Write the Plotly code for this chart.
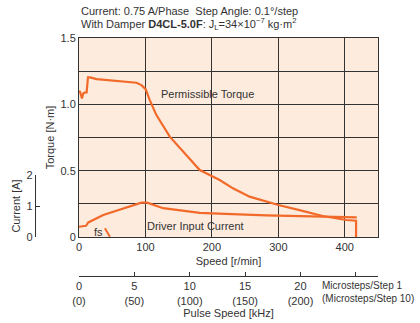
import plotly.graph_objects as go

# ---- data ----
speed_torque = [0, 1.5, 4.5, 6.5, 9.5, 11.5, 13.5, 16.5, 26.5, 86.5, 94, 100.5, 106.5, 116.5,
                136.6, 156.6, 181.7, 211.7, 231.7, 256.7, 300, 331.8, 366.8, 401.9, 417, 417]
torque = [1.10, 1.095, 1.045, 1.083, 1.09, 1.09, 1.203, 1.203, 1.19, 1.163, 1.145, 1.113, 1.032, 0.919,
          0.756, 0.643, 0.505, 0.43, 0.367, 0.304, 0.241, 0.203, 0.158, 0.128, 0.123, 0.0]

speed_current = [0, 10.5, 14, 36.5, 94, 102.5, 126.6, 181.7, 200, 281.8, 401.9, 418]
current = [0.33, 0.36, 0.47, 0.71, 1.11, 1.11, 0.93, 0.78, 0.76, 0.70, 0.64, 0.63]

fs_speed = [39, 46.5]
fs_level = [0.066, 0.002]

speed_ticks = [0, 100, 200, 300, 400]
torque_ticks = [0, 0.5, 1.0, 1.5]
torque_ticklabels = ["0", "0.5", "1.0", "1.5"]
current_ticks = [0, 1, 2]
pulse_ticks = [0, 5, 10, 15, 20, 25]
pulse_ticklabels = ["0<br>(0)", "5<br>(50)", "10<br>(100)", "15<br>(150)", "20<br>(200)", ""]

ORANGE = "#F26A2A"
GRID = "#333333"
TXT = "#333333"
FONT = "Liberation Sans, Arial, sans-serif"
FS = 11

W, H = 420, 323
ml, mr, mt, mb = 20, 42, 38, 47
pw = W - ml - mr
ph = H - mt - mb
x0 = (79 - ml) / pw
ybot = (276 - 237) / ph
main_h = 237 - 38          # px height of torque plot
cur_h = 62                 # px height of 0..2 A on current scale
cur_pos = (35.7 - ml) / pw

fig = go.Figure()
fig.add_trace(go.Scatter(x=speed_torque, y=torque, mode="lines",
                         line=dict(color=ORANGE, width=2.2), xaxis="x", yaxis="y",
                         hoverinfo="skip", showlegend=False))
fig.add_trace(go.Scatter(x=fs_speed, y=fs_level, mode="lines",
                         line=dict(color=ORANGE, width=2), xaxis="x", yaxis="y",
                         hoverinfo="skip", showlegend=False))
fig.add_trace(go.Scatter(x=speed_current, y=current, mode="lines",
                         line=dict(color=ORANGE, width=2.2), xaxis="x", yaxis="y2",
                         hoverinfo="skip", showlegend=False))
# empty traces that only create the subplots holding the current scale and pulse-speed scale
fig.add_trace(go.Scatter(x=[None], y=[None], xaxis="x3", yaxis="y3",
                         hoverinfo="skip", showlegend=False))
fig.add_trace(go.Scatter(x=[None], y=[None], xaxis="x2", yaxis="y4",
                         hoverinfo="skip", showlegend=False))

fig.update_layout(
    width=W, height=H,
    margin=dict(l=ml, r=mr, t=mt, b=mb),
    paper_bgcolor="white",
    plot_bgcolor="#FDEBDE",
    font=dict(family=FONT, size=FS, color=TXT),
    xaxis=dict(domain=[x0, 1], range=[0, 450], tickvals=speed_ticks,
               showgrid=True, gridcolor=GRID, gridwidth=1,
               showline=True, linecolor=GRID, linewidth=1, mirror=True,
               ticks="", zeroline=False, automargin=False,
               title=dict(text="Speed [r/min]", standoff=5, font=dict(size=FS)),
               anchor="y", fixedrange=True),
    yaxis=dict(domain=[ybot, 1], range=[0, 1.5], tickvals=torque_ticks,
               ticktext=torque_ticklabels,
               showgrid=True, gridcolor=GRID, gridwidth=1,
               showline=True, linecolor=GRID, linewidth=1, mirror=True,
               ticks="", zeroline=False, automargin=False,
               title=dict(text="Torque [N·m]", standoff=3, font=dict(size=FS)),
               anchor="x", fixedrange=True,
               minor=dict(dtick=0.25, showgrid=True, gridcolor=GRID, gridwidth=1)),
    yaxis2=dict(overlaying="y", range=[0, 2 * main_h / cur_h], visible=False,
                anchor="x", fixedrange=True),
    xaxis3=dict(domain=[cur_pos, cur_pos + 0.001], range=[0, 1], visible=False,
                anchor="y3", fixedrange=True),
    yaxis3=dict(domain=[ybot, ybot + cur_h / ph], range=[0, 2], tickvals=current_ticks,
                showgrid=False, zeroline=False, automargin=False,
                showline=True, linecolor=TXT, linewidth=1,
                ticks="inside", ticklen=4, tickcolor=TXT,
                anchor="x3", side="left",
                title=dict(text="Current [A]", standoff=3, font=dict(size=FS)),
                fixedrange=True),
    yaxis4=dict(domain=[0, 0.001], range=[0, 1], visible=False,
                anchor="x2", fixedrange=True),
    xaxis2=dict(domain=[x0, 1], range=[0, 27], tickvals=pulse_ticks,
                ticktext=pulse_ticklabels,
                showgrid=False, zeroline=False, automargin=False,
                showline=True, linecolor=TXT, linewidth=1,
                ticks="inside", ticklen=4, tickcolor=TXT,
                anchor="y4", side="bottom",
                title=dict(text="Pulse Speed [kHz]", standoff=3, font=dict(size=FS)),
                fixedrange=True),
)

fig.add_annotation(xref="paper", yref="paper", x=x0, y=1, yshift=19,
                   xanchor="left", yanchor="bottom", showarrow=False, align="left",
                   text="Current: 0.75 A/Phase  Step Angle: 0.1°/step",
                   font=dict(size=FS, color=TXT))
fig.add_annotation(xref="paper", yref="paper", x=x0, y=1, yshift=4,
                   xanchor="left", yanchor="bottom", showarrow=False, align="left",
                   text="With Damper <b>D4CL-5.0F</b>: J<sub>L</sub>=34×10<sup>−7</sup> kg·m<sup>2</sup>",
                   font=dict(size=FS, color=TXT))
fig.add_annotation(xref="x", yref="y", x=193, y=1.081, showarrow=False,
                   text="Permissible Torque", font=dict(size=FS, color=TXT))
fig.add_annotation(xref="x", yref="y", x=176, y=0.085, showarrow=False,
                   text="Driver Input Current", font=dict(size=FS, color=TXT))
fig.add_annotation(xref="x", yref="y", x=30, y=0.04, showarrow=False,
                   text="fs", font=dict(size=FS, color=TXT))
fig.add_annotation(xref="paper", yref="paper", x=(320 - ml) / pw, y=0, yshift=-2,
                   xanchor="left", yanchor="top", showarrow=False, align="left",
                   text="Microsteps/Step 1<br>(Microsteps/Step 10)",
                   font=dict(size=10, color=TXT))

fig.write_html("out.html", config={"displayModeBar": False},
               post_script="document.body.style.margin='0';")
